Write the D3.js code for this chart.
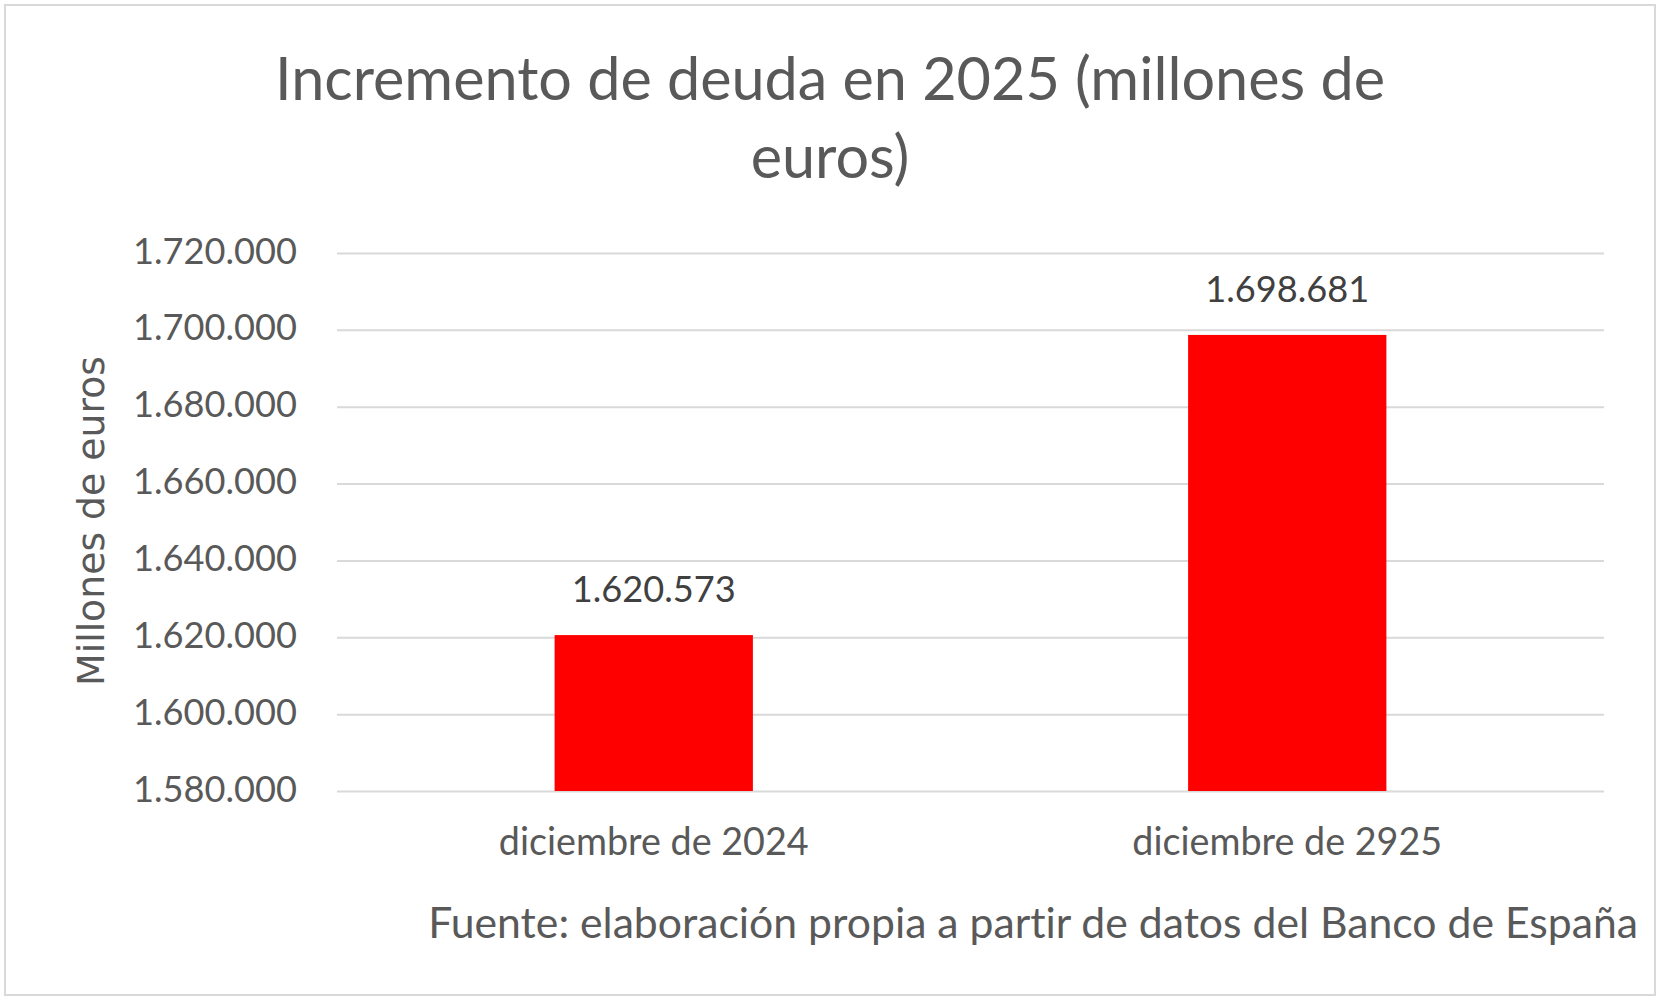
<!DOCTYPE html>
<html>
<head>
<meta charset="utf-8">
<script src="https://cdn.jsdelivr.net/npm/d3@7"></script>
<style>
  body { margin: 0; background: #fff; }
  svg { display: block; }
  text { font-variant-ligatures: none; font-feature-settings: "liga" 0; }
</style>
</head>
<body>
<svg id="chart"></svg>
<script>
var categories = ["diciembre de 2024", "diciembre de 2925"];
var debtValues = [1620573, 1698681];
var yTicks = [1580000, 1600000, 1620000, 1640000, 1660000, 1680000, 1700000, 1720000];
var titleLines = ["Incremento de deuda en 2025 (millones de", "euros)"];
var yTitle = "Millones de euros";
var sourceText = "Fuente: elaboración propia a partir de datos del Banco de España";

const W = 1663, H = 1003;
const plot = { left: 337, right: 1604, top: 253, bottom: 791 };
const mainFont = "Lato, 'Open Sans', sans-serif";

const es = d3.formatLocale({ decimal: ",", thousands: ".", grouping: [3], currency: ["", " €"] });
const fmt = es.format(",d");

const svg = d3.select("#chart").attr("width", W).attr("height", H);

// frame
svg.append("rect")
  .attr("x", 5).attr("y", 5)
  .attr("width", 1650).attr("height", 990)
  .attr("fill", "#fff")
  .attr("stroke", "#d9d9d9")
  .attr("stroke-width", 2);

const x = d3.scaleBand()
  .domain(categories)
  .range([plot.left, plot.right])
  .paddingInner(0.687)
  .paddingOuter(0.3435);

const y = d3.scaleLinear()
  .domain([d3.min(yTicks), d3.max(yTicks)])
  .range([plot.bottom, plot.top]);

// scale a text's font-size so it takes the given width
function fitWidth(sel, width) {
  sel.each(function () {
    const node = this;
    const fs = parseFloat(d3.select(node).attr("font-size"));
    const w = node.getComputedTextLength();
    d3.select(node).attr("font-size", (fs * width / w).toFixed(2));
  });
}

// gridlines + y labels
const yAxis = d3.axisLeft(y)
  .tickValues(yTicks)
  .tickSize(-(plot.right - plot.left))
  .tickPadding(40)
  .tickFormat(fmt);

const gy = svg.append("g")
  .attr("transform", "translate(" + plot.left + ",0)")
  .call(yAxis);
gy.select(".domain").remove();
gy.selectAll(".tick line").attr("stroke", "#d9d9d9").attr("stroke-width", 2);
gy.selectAll(".tick text")
  .attr("fill", "#595959")
  .attr("font-family", mainFont)
  .attr("font-size", 36)
  .attr("dy", null)
  .attr("y", 10);
const tickSize = (function () {
  const n = gy.select(".tick text").node();
  return 36 * 164 / n.getComputedTextLength();
})();
gy.selectAll(".tick text").attr("font-size", tickSize.toFixed(2));

// bars
svg.append("g").selectAll("rect")
  .data(debtValues)
  .join("rect")
  .attr("x", (d, i) => x(categories[i]))
  .attr("y", d => y(d))
  .attr("width", x.bandwidth())
  .attr("height", d => y(yTicks[0]) - y(d))
  .attr("fill", "#ff0000");

// value labels
svg.append("g").selectAll("text")
  .data(debtValues)
  .join("text")
  .attr("x", (d, i) => x(categories[i]) + x.bandwidth() / 2)
  .attr("y", d => y(d) - 33)
  .attr("text-anchor", "middle")
  .attr("font-family", mainFont)
  .attr("font-size", tickSize.toFixed(2))
  .attr("fill", "#404040")
  .text(d => fmt(d));

// category labels
const xAxis = d3.axisBottom(x).tickSize(0).tickPadding(0);
const gx = svg.append("g")
  .attr("transform", "translate(0," + plot.bottom + ")")
  .call(xAxis);
gx.select(".domain").remove();
gx.selectAll(".tick text")
  .attr("fill", "#595959")
  .attr("font-family", mainFont)
  .attr("font-size", 36)
  .attr("dy", null)
  .attr("y", 64);
fitWidth(gx.selectAll(".tick text").filter((d, i) => i === 0), 310);
gx.selectAll(".tick text").attr("font-size", gx.select(".tick text").attr("font-size"));

// title
const title = svg.append("g").selectAll("text")
  .data(titleLines)
  .join("text")
  .attr("x", 830)
  .attr("y", (d, i) => 100 + i * 78)
  .attr("text-anchor", "middle")
  .attr("font-family", mainFont)
  .attr("font-size", 60)
  .attr("fill", "#595959")
  .text(d => d);
fitWidth(title.filter((d, i) => i === 0), 1110);
title.attr("font-size", title.filter((d, i) => i === 0).attr("font-size"));

// y axis title
const yt = svg.append("text")
  .attr("transform", "translate(104,521) rotate(-90)")
  .attr("text-anchor", "middle")
  .attr("font-family", "'DejaVu Sans', Verdana, sans-serif")
  .attr("font-size", 36)
  .attr("fill", "#595959")
  .text(yTitle);
fitWidth(yt, 330);

// source note
const src = svg.append("text")
  .attr("x", 1638)
  .attr("y", 938)
  .attr("text-anchor", "end")
  .attr("font-family", mainFont)
  .attr("font-size", 38)
  .attr("fill", "#595959")
  .text(sourceText);
fitWidth(src, 1210);
</script>
</body>
</html>
